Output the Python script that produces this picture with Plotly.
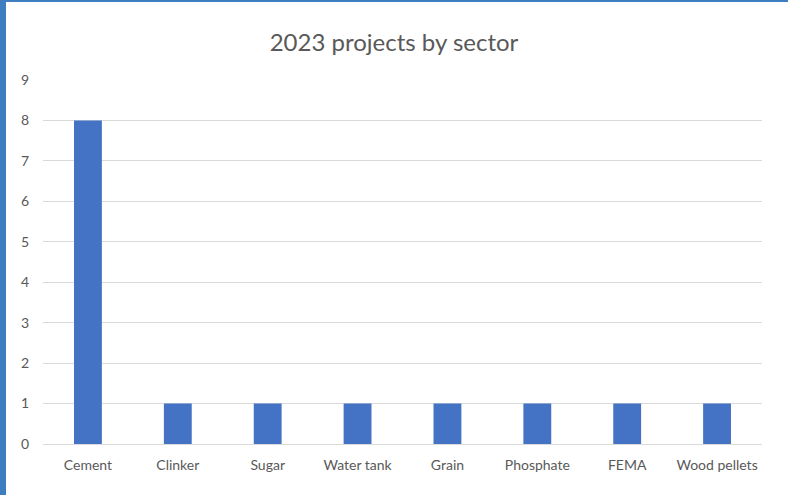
import plotly.graph_objects as go

categories = ["Cement", "Clinker", "Sugar", "Water tank", "Grain", "Phosphate", "FEMA", "Wood pellets"]
values = [8, 1, 1, 1, 1, 1, 1, 1]
y_ticks = list(range(0, 10))

W, H = 788, 495
ML, MR, MT, MB = 43, 26, 80, 51
pw = W - ML - MR
ph = H - MT - MB

fig = go.Figure(go.Bar(
    x=categories, y=values,
    marker=dict(color="#4472c4", line=dict(width=0)),
    width=0.31,
))

edge = "#3d7dc0"
fig.update_layout(
    width=W, height=H,
    margin=dict(l=ML, r=MR, t=MT, b=MB),
    paper_bgcolor="white", plot_bgcolor="white",
    title=dict(text="2023 projects by sector", x=0.5, xref="container", xanchor="center",
               y=1 - 43 / H, yref="container", yanchor="middle",
               font=dict(family="Lato", size=24, color="#595959")),
    font=dict(family="Lato", size=14, color="#595959"),
    showlegend=False,
    xaxis=dict(showgrid=False, showline=True, linecolor="#d9d9d9", linewidth=1,
               ticks="", ticklabelstandoff=8,
               tickfont=dict(size=14, color="#595959"), fixedrange=True),
    yaxis=dict(range=[0, 9], tickvals=y_ticks, showgrid=True, gridcolor="#d9d9d9",
               zeroline=False, showline=False, ticks="", ticklabelstandoff=13,
               tickfont=dict(size=14, color="#595959")),
    shapes=[
        dict(type="rect", xref="paper", yref="paper",
             x0=-ML / pw, x1=(6 - ML) / pw, y0=-MB / ph, y1=1 + MT / ph,
             fillcolor=edge, line=dict(width=0), layer="above"),
        dict(type="rect", xref="paper", yref="paper",
             x0=-ML / pw, x1=1 + MR / pw, y0=1 + (MT - 2) / ph, y1=1 + MT / ph,
             fillcolor=edge, line=dict(width=0), layer="above"),
    ],
)

fig.write_html("out.html")
